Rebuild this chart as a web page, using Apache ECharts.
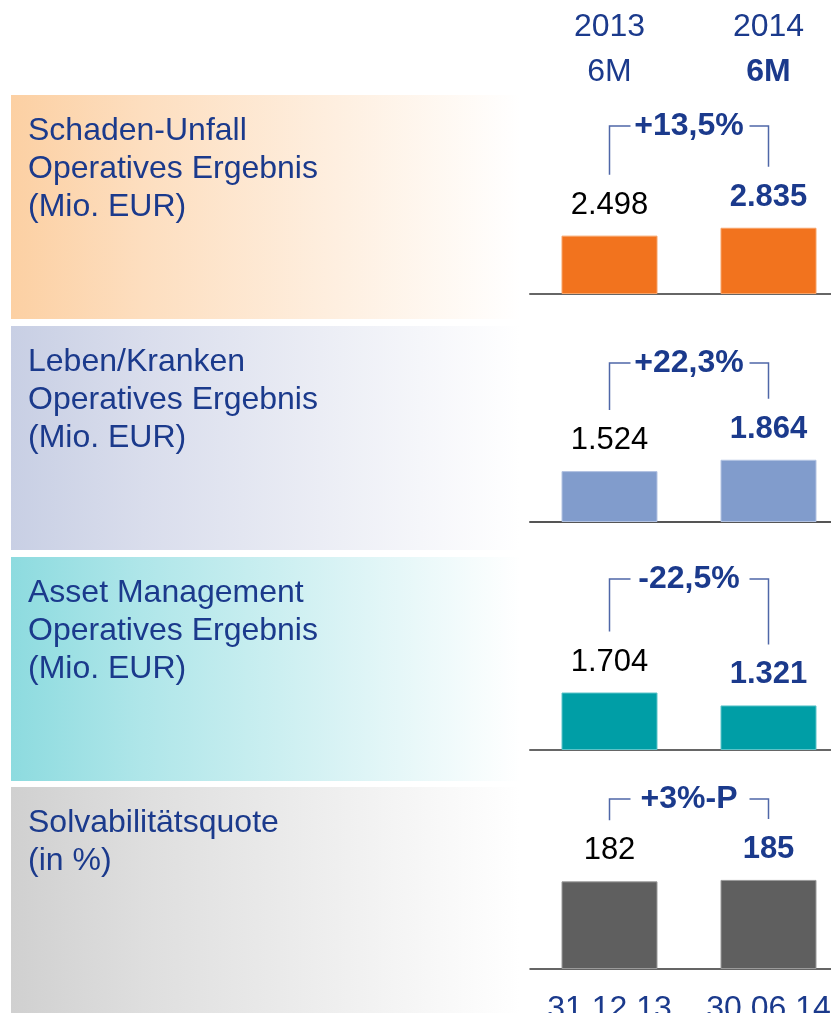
<!DOCTYPE html>
<html>
<head>
<meta charset="utf-8">
<script src="https://cdn.jsdelivr.net/npm/echarts@6/dist/echarts.min.js"></script>
<style>
  html, body { margin: 0; padding: 0; background: #fff; }
  #chart { width: 831px; height: 1013px; }
</style>
</head>
<body>
<div id="chart"></div>
<script>
// data
const periods = ['2013', '2014']
const periodSub = ['6M', '6M']
const dateLabels = ['31.12.13', '30.06.14']
const panelTitles = [
    'Schaden-Unfall\nOperatives Ergebnis\n(Mio. EUR)',
    'Leben/Kranken\nOperatives Ergebnis\n(Mio. EUR)',
    'Asset Management\nOperatives Ergebnis\n(Mio. EUR)',
    'Solvabilitätsquote\n(in %)'
]
const schadenUnfall = [2498, 2835]
const lebenKranken = [1524, 1864]
const assetMgmt = [1704, 1321]
const solvency = [182, 185]
const changeLabels = ['+13,5%', '+22,3%', '-22,5%', '+3%-P']

const FONT = '"Liberation Sans", Arial, sans-serif'
const NAVY = '#1b3a8c'
const fmtDe = v => v >= 1000 ? Math.floor(v / 1000) + '.' + String(v % 1000).padStart(3, '0') : String(v)

// layout per panel
const panels = [
    { values: schadenUnfall, top: 126, height: 168, max: 7190, color: '#f2731e', border: '#f7a368', bg: '#fcd0a3', bgTop: 95, bgH: 224, axis: '#666' },
    { values: lebenKranken, top: 363, height: 159, max: 4762, color: '#819ccc', border: '#b3c3e2', bg: '#c8cfe4', bgTop: 326, bgH: 224, axis: '#555' },
    { values: assetMgmt, top: 579, height: 171, max: 5070, color: '#009ea6', border: '#5cc4c9', bg: '#8ddbdf', bgTop: 557, bgH: 224, axis: '#666' },
    { values: solvency, top: 799, height: 170, max: 353, color: '#5f5f5f', border: '#9a9a9a', bg: '#d0d0d0', bgTop: 787, bgH: 226, axis: '#333' }
]

const chart = echarts.init(document.getElementById('chart'))

const grids = panels.map(p => ({ left: 530, width: 318, top: p.top, height: p.height, outerBoundsMode: 'none', containLabel: false }))

const xAxes = panels.map((p, i) => ({
    type: 'category',
    gridIndex: i,
    data: i === 3 ? dateLabels : periods,
    axisLine: { show: true, lineStyle: { color: p.axis, width: i === 3 ? 1.5 : 2 } },
    axisTick: { show: false },
    axisLabel: {
        show: i === 3,
        interval: 0,
        hideOverlap: false,
        color: NAVY,
        fontFamily: FONT,
        fontSize: 32,
        margin: 24
    }
}))
// header labels on top of the first panel
xAxes.push({
    type: 'category',
    gridIndex: 0,
    position: 'top',
    data: periods,
    axisLine: { show: false },
    axisTick: { show: false },
    axisLabel: {
        interval: 0,
        margin: 31,
        formatter: (v, idx) => '{y|' + v + '}\n' + (idx === 1 ? '{b|' : '{m|') + periodSub[idx] + '}',
        rich: {
            y: { color: NAVY, fontFamily: FONT, fontSize: 32, lineHeight: 45 },
            m: { color: NAVY, fontFamily: FONT, fontSize: 32, lineHeight: 45 },
            b: { color: NAVY, fontFamily: FONT, fontSize: 32, fontWeight: 'bold', lineHeight: 45 }
        }
    }
})

const yAxes = panels.map((p, i) => ({
    type: 'value',
    gridIndex: i,
    min: 0,
    max: p.max,
    show: false,
    splitLine: { show: false }
}))

const series = []
panels.forEach((p, i) => {
    series.push({
        type: 'bar',
        xAxisIndex: i,
        yAxisIndex: i,
        barWidth: 96,
        silent: true,
        data: p.values.map((v, k) => ({
            value: v,
            itemStyle: { color: p.color, borderColor: p.border, borderWidth: 1 },
            label: {
                show: true,
                position: 'top',
                distance: 15,
                formatter: () => fmtDe(v),
                fontFamily: FONT,
                fontSize: 31,
                color: k === 1 ? NAVY : '#000',
                fontWeight: k === 1 ? 'bold' : 'normal'
            }
        }))
    })
    // change bracket
    series.push({
        type: 'custom',
        xAxisIndex: i,
        yAxisIndex: i,
        silent: true,
        clip: false,
        encode: { x: 0, y: 1 },
        data: [[0, p.values[0], p.values[1]]],
        renderItem: (params, api) => {
            const a = api.coord([0, api.value(1)])
            const b = api.coord([1, api.value(2)])
            const top = params.coordSys.y
            const line = { stroke: '#4f67a8', lineWidth: 1.5, fill: null }
            return {
                type: 'group',
                children: [
                    { type: 'polyline', shape: { points: [[a[0], a[1] - 61], [a[0], top], [a[0] + 21, top]] }, style: line },
                    { type: 'polyline', shape: { points: [[b[0] - 19, top], [b[0], top], [b[0], b[1] - 61]] }, style: line },
                    {
                        type: 'text',
                        x: (a[0] + b[0]) / 2,
                        y: top,
                        style: {
                            text: changeLabels[i],
                            fill: NAVY,
                            font: 'bold 32px ' + FONT,
                            align: 'center',
                            verticalAlign: 'middle'
                        }
                    }
                ]
            }
        }
    })
})

const graphics = panels.map((p, i) => ({
    type: 'group',
    z: -10,
    children: [
        {
            type: 'rect',
            shape: { x: 11, y: p.bgTop, width: 525, height: p.bgH },
            style: {
                fill: new echarts.graphic.LinearGradient(0, 0, 1, 0, [
                    { offset: 0, color: p.bg },
                    { offset: 0.25, color: echarts.color.lerp(0.3, [p.bg, '#ffffff']) },
                    { offset: 0.97, color: '#ffffff' }
                ])
            }
        },
        {
            type: 'text',
            x: 28,
            y: p.bgTop + 17,
            style: {
                text: panelTitles[i],
                fill: NAVY,
                font: '32px ' + FONT,
                lineHeight: 38,
                verticalAlign: 'top'
            }
        }
    ]
}))

chart.setOption({
    animation: false,
    grid: grids,
    xAxis: xAxes,
    yAxis: yAxes,
    series: series,
    graphic: graphics
})
</script>
</body>
</html>
